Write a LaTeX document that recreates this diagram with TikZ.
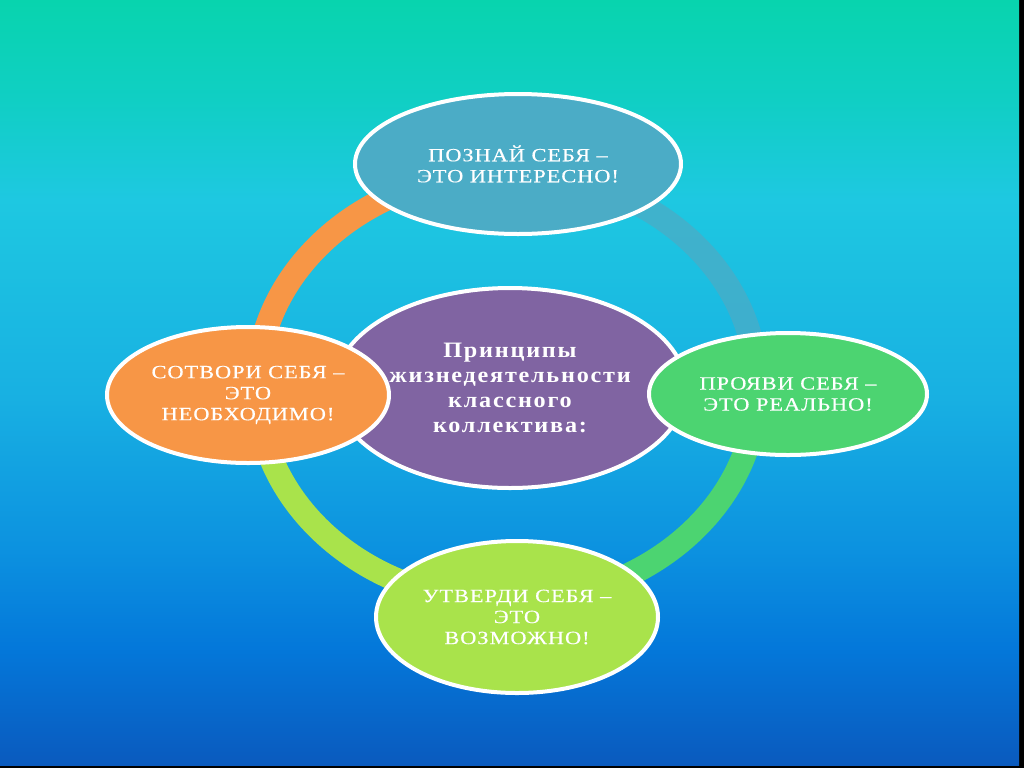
\documentclass[tikz,border=0pt]{standalone}
\usepackage{fontspec}
\setmainfont{Liberation Serif}
\newfontfamily\leafont[FakeStretch=1.2,LetterSpace=5,FakeBold=0.4]{Liberation Serif}
\newfontfamily\hubfont[FakeStretch=1.1,LetterSpace=8]{Liberation Serif Bold}
\usetikzlibrary{shapes.geometric}

\definecolor{bgA}{HTML}{08D4AE}
\definecolor{bgB}{HTML}{10CFC4}
\definecolor{bgD}{HTML}{1EC8E1}
\definecolor{bgE}{HTML}{18B0E2}
\definecolor{bgF}{HTML}{0C92E0}
\definecolor{bgG}{HTML}{0478DA}
\definecolor{bgH}{HTML}{0A5ABE}
\definecolor{aquaA}{HTML}{4BACC6}
\definecolor{plumA}{HTML}{8064A2}
\definecolor{orngA}{HTML}{F79646}
\definecolor{grnA}{HTML}{4CD471}
\definecolor{limeA}{HTML}{A9E34B}

\pgfdeclareverticalshading{bgshade}{100bp}{color(0bp)=(bgH); color(25bp)=(bgH);
	color(32.68bp)=(bgG); color(39.19bp)=(bgF); color(48.96bp)=(bgE);
	color(61.98bp)=(bgD); color(68.49bp)=(bgB); color(75bp)=(bgA); color(100bp)=(bgA)}

\newdimen\px \px=0.75pt

\begin{document}
\begin{tikzpicture}[x=0.75pt,y=0.75pt]

	\tikzset{
		leaf/.style={ellipse,draw=white,line width=3pt,text=white,inner sep=0pt,align=center,
				font=\leafont\fontsize{14}{15.75}\selectfont},
		hub/.style={ellipse,draw=white,line width=3pt,text=white,inner sep=0pt,align=center,
				font=\hubfont\fontsize{16.5}{18.75}\selectfont},
		ringarc/.style={line width=18pt}
	}

	% backdrop
	\fill[black] (0,0) rectangle (1024,-768);
	\shade[shading=bgshade] (0,0) rectangle (1019,-765);

	% the cycle ring
	\coordinate (ring) at (507,-387);
	\foreach \a/\b/\col/\op in {180/90/orngA/1, 90/0/aquaA/0.75, 0/-90/grnA/1, -90/-180/limeA/1} {
			\draw[ringarc,draw=\col,draw opacity=\op] ([shift={(\a:250 and 215)}]ring)
				arc[start angle=\a, end angle=\b, x radius=250, y radius=215];
		}

	\node[hub,fill=plumA,minimum width=352\px,minimum height=200\px] (hub) at (510,-388)
		{Принципы\\жизнедеятельности\\классного\\коллектива:};

	\node[leaf,fill=aquaA,minimum width=326\px,minimum height=140\px] (know) at (518,-164)
		{ПОЗНАЙ СЕБЯ –\\ЭТО ИНТЕРЕСНО!};
	\node[leaf,fill=orngA,minimum width=282\px,minimum height=136\px] (make) at (248,-395)
		{СОТВОРИ СЕБЯ –\\ЭТО\\НЕОБХОДИМО!};
	\node[leaf,fill=grnA,minimum width=278\px,minimum height=122\px] (show) at (788,-394)
		{ПРОЯВИ СЕБЯ –\\ЭТО РЕАЛЬНО!};
	\node[leaf,fill=limeA,minimum width=282\px,minimum height=152\px] (assert) at (517,-617)
		{УТВЕРДИ СЕБЯ –\\ЭТО\\ВОЗМОЖНО!};

\end{tikzpicture}
\end{document}
